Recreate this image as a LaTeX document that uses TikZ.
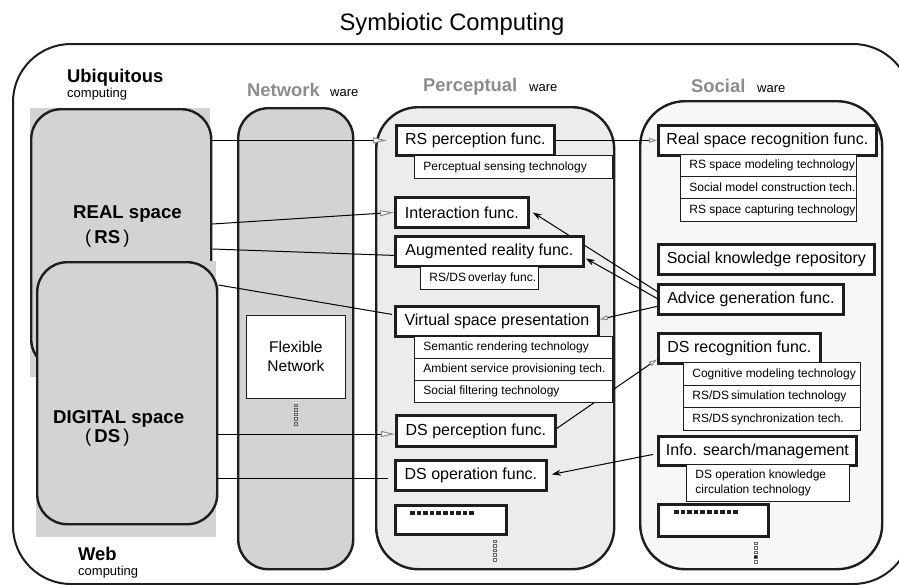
\documentclass[tikz,border=0pt]{standalone}
\usepackage{fontspec}
\setmainfont{Liberation Sans}
\usetikzlibrary{arrows.meta,calc}

\pgfdeclarelayer{columns}
\pgfdeclarelayer{links}
\pgfsetlayers{columns,links,main}

\definecolor{spacegray}{HTML}{D3D3D5}
\definecolor{percfill}{HTML}{ECECEE}
\definecolor{socfill}{HTML}{F7F7F7}
\definecolor{edge}{HTML}{1E1E1E}
\definecolor{headgray}{HTML}{8A8A8A}
\definecolor{waregray}{HTML}{8C8C8C}

% one left-aligned row of a technology box: width, text
\newcommand\tline[2]{\makebox[#1pt][l]{\hspace{9pt}#2}}

\tikzset{
  funcbox/.style={draw=edge, line width=2.8pt, fill=white, inner sep=0pt,
    anchor=north west, font=\fontsize{16}{18}\selectfont},
  techbox/.style={draw=edge, line width=0.8pt, fill=white, inner sep=0pt,
    anchor=north west, align=left, font=\fontsize{12}{14.5}\selectfont},
  column/.style={draw=edge, line width=2.4pt, anchor=north west, inner sep=0pt},
  lbl/.style={inner sep=0pt, anchor=base west},
  headline/.style={lbl, font=\fontsize{18.4}{22}\selectfont\bfseries},
  spacename/.style={lbl, font=\fontsize{18.6}{22}\selectfont\bfseries},
  smalltext/.style={lbl, font=\fontsize{13}{15}\selectfont},
  link/.style={draw=black, line width=1pt},
  bighead/.style={-{Triangle[length=14pt,width=6pt,color=headgray,fill=white]}},
  smallhead/.style={-{Triangle[length=8pt,width=5pt,color=headgray,fill=white]}},
  solidhead/.style={-{Stealth[length=9pt,width=6pt]}},
  tickmark/.style={draw=black!60, line width=0.5pt}
}

\begin{document}
\begin{tikzpicture}[x=1pt, y=-1pt]
\useasboundingbox (0,0) rectangle (899,584);

% ---------- frames and columns ----------
\begin{pgfonlayer}{columns}
  \node[column, line width=2pt, rounded corners=58pt, minimum width=898,
        minimum height=540] (outer) at (12,43) {};
  \fill[spacegray] (30,108) rectangle (210,377);
  \node[column, fill=spacegray, rounded corners=30pt, minimum width=180,
        minimum height=260] (real) at (30,108) {};
  \fill[spacegray] (36,261) rectangle (216,537);
  \node[column, fill=spacegray, rounded corners=30pt, minimum width=180,
        minimum height=262] (digital) at (36,261) {};
  \node[column, fill=spacegray, rounded corners=30pt, minimum width=115,
        minimum height=461] (netcol) at (237,107) {};
  \node[column, fill=percfill, rounded corners=42pt, minimum width=238,
        minimum height=462] (perccol) at (375,106) {};
  \node[column, fill=socfill, rounded corners=45pt, minimum width=242,
        minimum height=468] (soccol) at (639,100) {};
\end{pgfonlayer}

% ---------- headings ----------
\node[anchor=base, inner sep=0pt, font=\fontsize{23.8}{28}\selectfont] (title)
  at (452,30) {Symbiotic Computing};
\node[headline] (ubi) at (67,82) {Ubiquitous};
\node[smalltext] (ubisub) at (67,97) {computing};
\node[headline] (web) at (78,560) {Web};
\node[smalltext] (websub) at (78,575) {computing};
\node[headline, text=waregray] (netlab) at (247,96) {Network};
\node[smalltext] (netware) at (330,96) {ware};
\node[headline, text=waregray] (perclab) at (423,91) {Perceptual};
\node[smalltext] (percware) at (529,91) {ware};
\node[headline, text=waregray] (soclab) at (691,92) {Social};
\node[smalltext] (socware) at (757,92) {ware};

\node[spacename] (realtxt) at (73,218) {REAL space};
\node[spacename] (realabbr) at (85,243) {{\mdseries(}\,RS\,{\mdseries)}};
\node[spacename] (digtxt) at (53,423) {DIGITAL space};
\node[spacename] (digabbr) at (85,442) {{\mdseries(}\,DS\,{\mdseries)}};

% ---------- network ware ----------
\node[draw=edge, line width=0.8pt, fill=white, minimum width=99, minimum height=83,
      anchor=north west, align=center, font=\fontsize{15.5}{19}\selectfont] (flex)
  at (246,315) {Flexible\\Network};
\foreach \k in {0,...,4}
  \draw[tickmark] ($(flex.south)+(-1.5,5+4.6*\k)$) rectangle ++(3,2.6);

% ---------- perceptual ware ----------
\node[funcbox, minimum width=158, minimum height=30] (rsp) at (395,124) {RS perception func.};
\node[techbox, minimum height=23] (pst) at (414,155) {\tline{198}{Perceptual sensing technology}};
\node[funcbox, minimum width=133, minimum height=30] (inter) at (394,196) {Interaction func.};
\node[funcbox, minimum width=188, minimum height=30] (aug) at (394,235) {Augmented reality func.};
\node[techbox, minimum height=23] (ovl) at (420,266) {\tline{118}{RS/DS\,overlay func.}};
\node[funcbox, minimum width=203, minimum height=30] (vsp) at (394,305) {Virtual space presentation};
\node[techbox, minimum height=22] (sem) at (414,336) {\tline{198}{Semantic rendering technology}};
\node[techbox, minimum height=22] (amb) at (414,358) {\tline{198}{Ambient service provisioning tech.}};
\node[techbox, minimum height=22] (sft) at (414,380) {\tline{198}{Social filtering technology}};
\node[funcbox, minimum width=159, minimum height=31] (dsp) at (395,414) {DS perception func.};
\node[funcbox, minimum width=151, minimum height=30] (dso) at (394,459) {DS operation func.};
\node[funcbox, minimum width=111, minimum height=29] (pdots) at (394,504) {};
\foreach \i in {0,...,9}
  \fill[edge] ($(pdots.north west)+(16+6.6*\i,7)$) rectangle ++(4.5,4);
\foreach \k in {0,...,4}
  \draw[tickmark] ($(pdots.south east)+(-14.5,4+4.6*\k)$) rectangle ++(3,2.6);

% ---------- social ware ----------
\node[funcbox, minimum width=218, minimum height=30] (rsr) at (657,124) {Real space recognition func.};
\node[techbox, minimum height=22] (rsm) at (680,154) {\tline{176}{RS space modeling technology}};
\node[techbox, minimum height=22] (smc) at (680,176) {\tline{176}{Social model construction tech.}};
\node[techbox, minimum height=23] (rsc) at (680,198) {\tline{176}{RS space capturing technology}};
\node[funcbox, minimum width=216, minimum height=30] (skr) at (657,243) {Social knowledge repository};
\node[funcbox, minimum width=185, minimum height=30] (adv) at (657,283) {Advice generation func.};
\node[funcbox, minimum width=162, minimum height=30] (dsr) at (657,332) {DS recognition func.};
\node[techbox, minimum height=23] (cog) at (683,362) {\tline{177}{Cognitive modeling technology}};
\node[techbox, minimum height=22] (sim) at (683,385) {\tline{177}{RS/DS\,simulation technology}};
\node[techbox, minimum height=23] (syn) at (683,407) {\tline{177}{RS/DS\,synchronization tech.}};
\node[funcbox, minimum width=198, minimum height=29] (isr) at (657,435) {Info. search/management};
\node[techbox, minimum height=37] (dok) at (686,464)
  {\tline{163}{DS operation knowledge}\\\tline{163}{circulation technology}};
\node[funcbox, minimum width=110, minimum height=32] (sdots) at (657,503) {};
\foreach \i in {0,...,9}
  \fill[edge] ($(sdots.north west)+(17+6.6*\i,7)$) rectangle ++(4.5,4);
\foreach \k in {0,...,4}
  \draw[tickmark] ($(sdots.south east)+(-15.5,4+4.6*\k)$) rectangle ++(3,2.6);
\fill[edge] ($(sdots.south east)+(-15.5,4+4.6*3)$) rectangle ++(3,2.6);

% ---------- connectors ----------
\begin{pgfonlayer}{links}
  \draw[link, bighead] (real.east |- rsp.west) -- ([xshift=-8pt]rsp.west);
  \draw[link, smallhead] (rsp.east) -- (rsr.west);
  \draw[link, bighead] ($(real.north east)+(0,116)$) -- (inter.west);
  \draw[link] ($(real.north east)+(0,141)$) -- ([yshift=-4pt]aug.west);
  \draw[link] ($(digital.north east)+(0,24)$) -- ([xshift=-2pt,yshift=7pt]vsp.west);
  \coordinate (dsout) at ($(digital.north east)+(0,173)$);
  \draw[link, bighead] (dsout) -- (dsout -| dsp.west);
  \coordinate (dsop) at ($(digital.north east)+(0,217)$);
  \draw[link] (dsop) -- ([xshift=-6pt]dsop -| dso.west);
  \draw[link, solidhead] ([yshift=8pt]adv.west) -- ([xshift=3pt]inter.east);
  \draw[link, solidhead] ([yshift=1pt]adv.west) -- ([xshift=1pt,yshift=-7pt]aug.east);
  \draw[link, smallhead] ([yshift=-7pt]adv.west) -- ([yshift=2pt]vsp.east);
  \draw[link, smallhead] ([yshift=2.5pt]dsp.east) -- ([yshift=-11pt]dsr.west);
  \draw[link, solidhead] ([xshift=-4pt,yshift=-3.5pt]isr.west) -- ([xshift=4pt,yshift=1pt]dso.east);
\end{pgfonlayer}
\end{tikzpicture}
\end{document}
